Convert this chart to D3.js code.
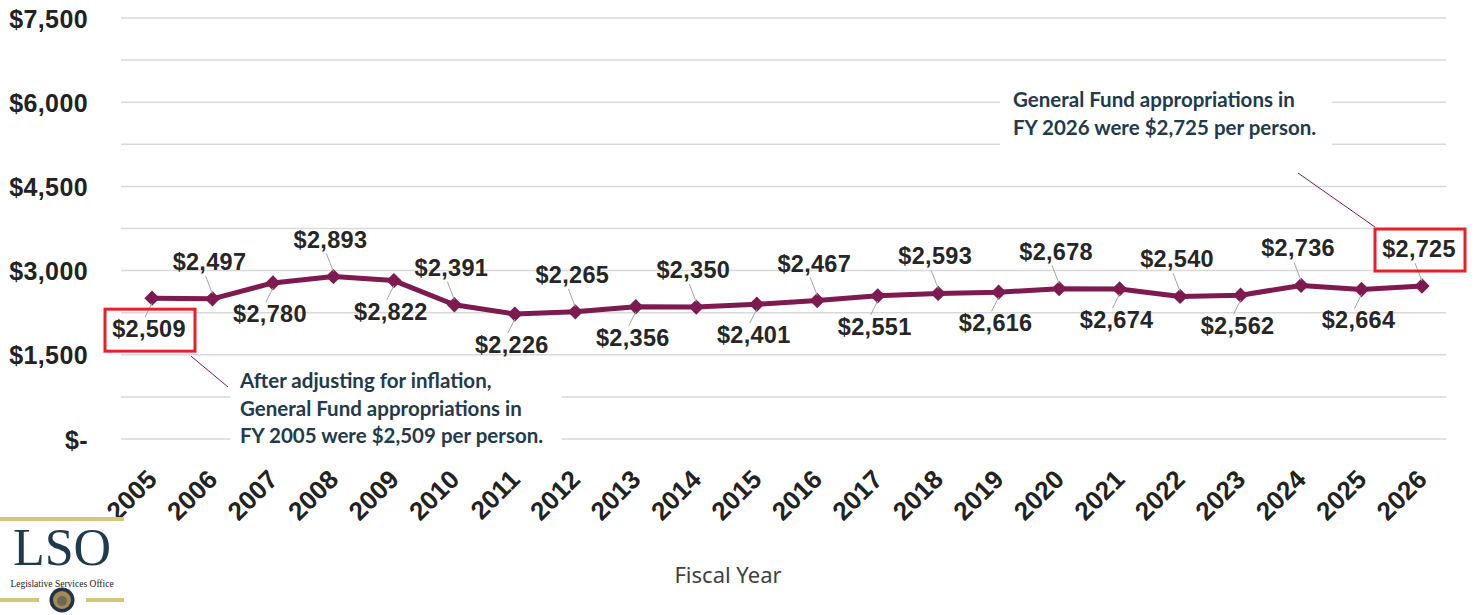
<!DOCTYPE html>
<html>
<head>
<meta charset="utf-8">
<script src="https://cdn.jsdelivr.net/npm/d3@7"></script>
<style>
  body { margin: 0; background: #fff; }
  svg { display: block; }
</style>
</head>
<body>
<div class="canvas"></div>
<script>
// data
const years = ['2005','2006','2007','2008','2009','2010','2011','2012','2013','2014','2015',
  '2016','2017','2018','2019','2020','2021','2022','2023','2024','2025','2026'];
const perPerson = [2509, 2497, 2780, 2893, 2822, 2391, 2226, 2265, 2356, 2350, 2401,
  2467, 2551, 2593, 2616, 2678, 2674, 2540, 2562, 2736, 2664, 2725];
const yTicks = [0, 1500, 3000, 4500, 6000, 7500];
const gridTicks = [0, 750, 1500, 2250, 3000, 3750, 4500, 5250, 6000, 6750, 7500];
const noteStart = ['After adjusting for inflation,', 'General Fund appropriations in', 'FY 2005 were $2,509 per person.'];
const noteEnd = ['General Fund appropriations in', 'FY 2026 were $2,725 per person.'];

const svgWidth = 1478;
const svgHeight = 615;
const margin = { top: 18, right: 32, bottom: 176, left: 121 };
const graphWidth = svgWidth - margin.left - margin.right;
const graphHeight = svgHeight - margin.top - margin.bottom;

const lineColor = '#7d1a50';
const noteColor = '#233a4a';
const labelFont = '"Liberation Sans", Arial, sans-serif';

const svg = d3.select('.canvas')
  .append('svg')
    .attr('width', svgWidth)
    .attr('height', svgHeight);

const g = svg.append('g')
  .attr('transform', `translate(${margin.left}, ${margin.top})`);

// scales
const x = d3.scalePoint().domain(years).range([31, 1301]);
const y = d3.scaleLinear().domain([0, 7500]).range([graphHeight, 0]);

// gridlines
g.append('g')
  .selectAll('line')
  .data(gridTicks)
  .join('line')
    .attr('x1', 0)
    .attr('x2', graphWidth)
    .attr('y1', d => y(d))
    .attr('y2', d => y(d))
    .attr('stroke', '#d9d9d9')
    .attr('stroke-width', 1.5);

// y axis labels
const yAxis = d3.axisLeft(y)
  .tickValues(yTicks)
  .tickSize(0)
  .tickPadding(33)
  .tickFormat(d => d === 0 ? '$-' : '$' + d3.format(',')(d));

g.append('g')
  .call(yAxis)
  .call(a => a.select('.domain').remove())
  .selectAll('text')
    .attr('fill', '#222')
    .attr('font-family', labelFont)
    .attr('font-weight', 'bold')
    .attr('font-size', 25)
    .attr('letter-spacing', 0.4)
    .attr('dy', '0.36em');

// x axis labels, rotated
const xAxis = d3.axisBottom(x).tickSize(0).tickPadding(0);
g.append('g')
  .attr('transform', `translate(0, ${graphHeight})`)
  .call(xAxis)
  .call(a => a.select('.domain').remove())
  .selectAll('text')
    .attr('fill', '#222')
    .attr('font-family', labelFont)
    .attr('font-weight', 'bold')
    .attr('font-size', 26)
    .attr('text-anchor', 'end')
    .attr('dy', 0)
    .attr('y', 0)
    .attr('transform', 'translate(6, 42) rotate(-45)');

// white backing boxes for the notes
g.append('rect')
  .attr('x', 230 - margin.left).attr('y', 364 - margin.top)
  .attr('width', 332).attr('height', 88)
  .attr('fill', '#fff');
g.append('rect')
  .attr('x', 1000 - margin.left).attr('y', 80 - margin.top)
  .attr('width', 332).attr('height', 66)
  .attr('fill', '#fff');

// series line
const line = d3.line()
  .x((d, i) => x(years[i]))
  .y(d => y(d));

g.append('path')
  .datum(perPerson)
  .attr('d', line)
  .attr('fill', 'none')
  .attr('stroke', lineColor)
  .attr('stroke-width', 5)
  .attr('stroke-linejoin', 'round');

g.append('g')
  .selectAll('path')
  .data(perPerson)
  .join('path')
    .attr('d', d3.symbol(d3.symbolDiamond2, 150))
    .attr('transform', (d, i) => `translate(${x(years[i])}, ${y(d)})`)
    .attr('fill', lineColor);

// data labels, alternating below/above
const labels = g.append('g');
const labelPos = perPerson.map((v, i) => {
  const px = x(years[i]);
  const py = y(v);
  const above = i % 2 === 1;
  return { px, py, above, lx: px - 3, ly: above ? py - 29 : py + 39 };
});
labelPos.forEach((p, i) => {
  labels.append('line')
    .attr('x1', p.px)
    .attr('y1', p.above ? p.py - 5 : p.py + 5)
    .attr('x2', p.lx - 4)
    .attr('y2', p.above ? p.ly + 6 : p.ly - 20)
    .attr('stroke', '#a6a6a6')
    .attr('stroke-width', 1);
  labels.append('text')
    .attr('x', p.lx)
    .attr('y', p.ly)
    .attr('text-anchor', 'middle')
    .attr('font-family', labelFont)
    .attr('font-weight', 'bold')
    .attr('font-size', 23.5)
    .attr('letter-spacing', 0.3)
    .attr('fill', '#262626')
    .text('$' + d3.format(',')(perPerson[i]));
});

// highlight boxes on first and last label
const first = labelPos[0];
const last = labelPos[labelPos.length - 1];
[first, last].forEach(p => {
  g.append('rect')
    .attr('x', p.lx - 44).attr('y', p.ly - 28)
    .attr('width', 90).attr('height', 42)
    .attr('fill', 'none')
    .attr('stroke', '#e8202a')
    .attr('stroke-width', 3);
});

// note leader lines
g.append('line')
  .attr('x1', first.lx + 42).attr('y1', first.ly + 19)
  .attr('x2', 228 - margin.left).attr('y2', 387 - margin.top)
  .attr('stroke', lineColor).attr('stroke-width', 1);
g.append('line')
  .attr('x1', 1298 - margin.left).attr('y1', 173 - margin.top)
  .attr('x2', last.lx - 44).attr('y2', last.ly - 30)
  .attr('stroke', lineColor).attr('stroke-width', 1);

// note texts
const notes = [[noteStart, 240, 388], [noteEnd, 1013, 107]];
notes.forEach(([lines, tx, ty]) => {
  const t = svg.append('text')
    .attr('font-family', 'Lato, "Open Sans", sans-serif')
    .attr('font-weight', 'bold')
    .attr('font-size', 20.5)
    .attr('fill', noteColor);
  lines.forEach((s, k) => {
    t.append('tspan').attr('x', tx).attr('y', ty + k * 27.5).text(s);
  });
});

// axis title
svg.append('text')
  .attr('x', 728)
  .attr('y', 583)
  .attr('text-anchor', 'middle')
  .attr('font-family', '"Noto Sans", sans-serif')
  .attr('font-size', 22)
  .attr('fill', '#404040')
  .text('Fiscal Year');

// LSO logo
const logo = svg.append('g');
const gold = '#d6c57c';
logo.append('rect').attr('x', 0).attr('y', 517).attr('width', 124).attr('height', 4).attr('fill', gold);
logo.append('rect').attr('x', 0).attr('y', 598).attr('width', 39).attr('height', 4).attr('fill', gold);
logo.append('rect').attr('x', 86).attr('y', 598).attr('width', 38).attr('height', 4).attr('fill', gold);
logo.append('text')
  .attr('x', 62).attr('y', 565)
  .attr('text-anchor', 'middle')
  .attr('font-family', '"Liberation Serif", serif')
  .attr('font-size', 52)
  .attr('fill', '#1f3a4c')
  .text('LSO');
logo.append('text')
  .attr('x', 62).attr('y', 587)
  .attr('text-anchor', 'middle')
  .attr('font-family', '"Liberation Serif", serif')
  .attr('font-size', 9.5)
  .attr('fill', '#222')
  .text('Legislative Services Office');
logo.append('circle').attr('cx', 62).attr('cy', 600).attr('r', 12.5).attr('fill', '#26324a');
logo.append('circle').attr('cx', 62).attr('cy', 600).attr('r', 9).attr('fill', '#a08c52');
logo.append('circle').attr('cx', 62).attr('cy', 601).attr('r', 5).attr('fill', '#6c6a55');
</script>
</body>
</html>
